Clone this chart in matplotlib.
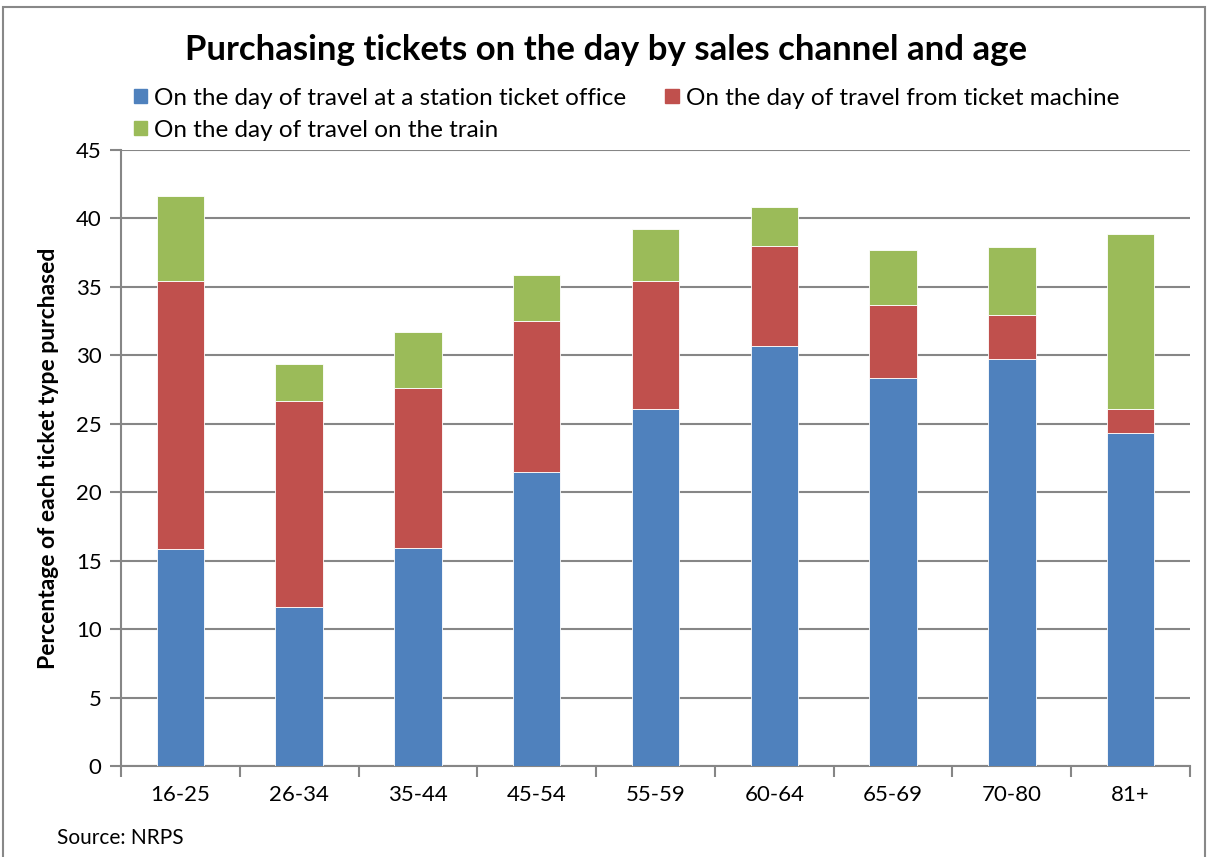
import numpy as np
import matplotlib
matplotlib.use('Agg')
import matplotlib.pyplot as plt
from matplotlib.patches import Rectangle, Patch

plt.rcParams['font.family'] = ['Lato', 'DejaVu Sans']

# data
ages = ['16-25', '26-34', '35-44', '45-54', '55-59', '60-64', '65-69', '70-80', '81+']
office = [15.86, 11.60, 15.96, 21.51, 26.07, 30.65, 28.34, 29.75, 24.36]
machine = [19.54, 15.03, 11.69, 10.97, 9.33, 7.36, 5.34, 3.17, 1.69]
train = [6.24, 2.76, 4.02, 3.41, 3.80, 2.83, 3.99, 5.02, 12.79]
labels = ['On the day of travel at a station ticket office',
          'On the day of travel from ticket machine',
          'On the day of travel on the train']
colors = ['#4f81bd', '#c0504d', '#9bbb59']
yticks = list(range(0, 50, 5))

W, H = 1208, 857
fig = plt.figure(figsize=(W / 100, H / 100), dpi=100)
ax = fig.add_axes([121 / W, (H - 766) / H, 1069 / W, 616 / H])

x = np.arange(len(ages))
bw = 0.4
bottom = np.zeros(len(ages))
for vals, c in zip([office, machine, train], colors):
    ax.bar(x, vals, bw, bottom=bottom, color=c, edgecolor='white', linewidth=0.6, zorder=3)
    bottom += np.array(vals)

ax.set_xlim(-0.5, len(ages) - 0.5)
ax.set_ylim(0, 45)
ax.set_yticks(yticks)
ax.set_xticks(x)
ax.set_xticklabels(ages)
ax.set_xticks(np.arange(-0.5, len(ages), 1), minor=True)
ax.tick_params(axis='x', which='major', length=0, pad=14, labelsize=16)
ax.tick_params(axis='x', which='minor', length=8, width=1.5, color='#868686', direction='out')
ax.tick_params(axis='y', length=8, width=1.5, color='#868686', direction='out', pad=6, labelsize=16)
ax.yaxis.grid(True, color='#868686', linewidth=1.5, zorder=0)
ax.set_axisbelow(True)
for s in ['top', 'right']:
    ax.spines[s].set_visible(False)
for s in ['left', 'bottom']:
    ax.spines[s].set_color('#868686')
    ax.spines[s].set_linewidth(1.5)

ax.set_ylabel('Percentage of each ticket type purchased', fontsize=16.5, fontweight='bold', labelpad=12)

fig.text(606 / W, 1 - 50 / H, 'Purchasing tickets on the day by sales channel and age',
         ha='center', va='center', fontsize=25, fontweight='bold')

handles = [Patch(color=c) for c in colors]
# reorder so the legend fills row by row
order = [0, 2, 1]
leg = fig.legend([handles[i] for i in order], [labels[i] for i in order],
                 ncol=2, loc='upper left', bbox_to_anchor=(124 / W, 1 - 78 / H),
                 frameon=False, fontsize=17.5, handlelength=0.55, handleheight=0.55,
                 handletextpad=0.3, columnspacing=1.6, labelspacing=0.45, borderaxespad=0)

fig.text(57 / W, 1 - 838 / H, 'Source: NRPS', ha='left', va='center', fontsize=15)

fig.add_artist(Rectangle((3 / W, -0.02), (W - 6) / W, 1.02 - 7 / H, transform=fig.transFigure,
                         fill=False, edgecolor='#888888', linewidth=1.5))

fig.savefig('out.png', dpi=100)
